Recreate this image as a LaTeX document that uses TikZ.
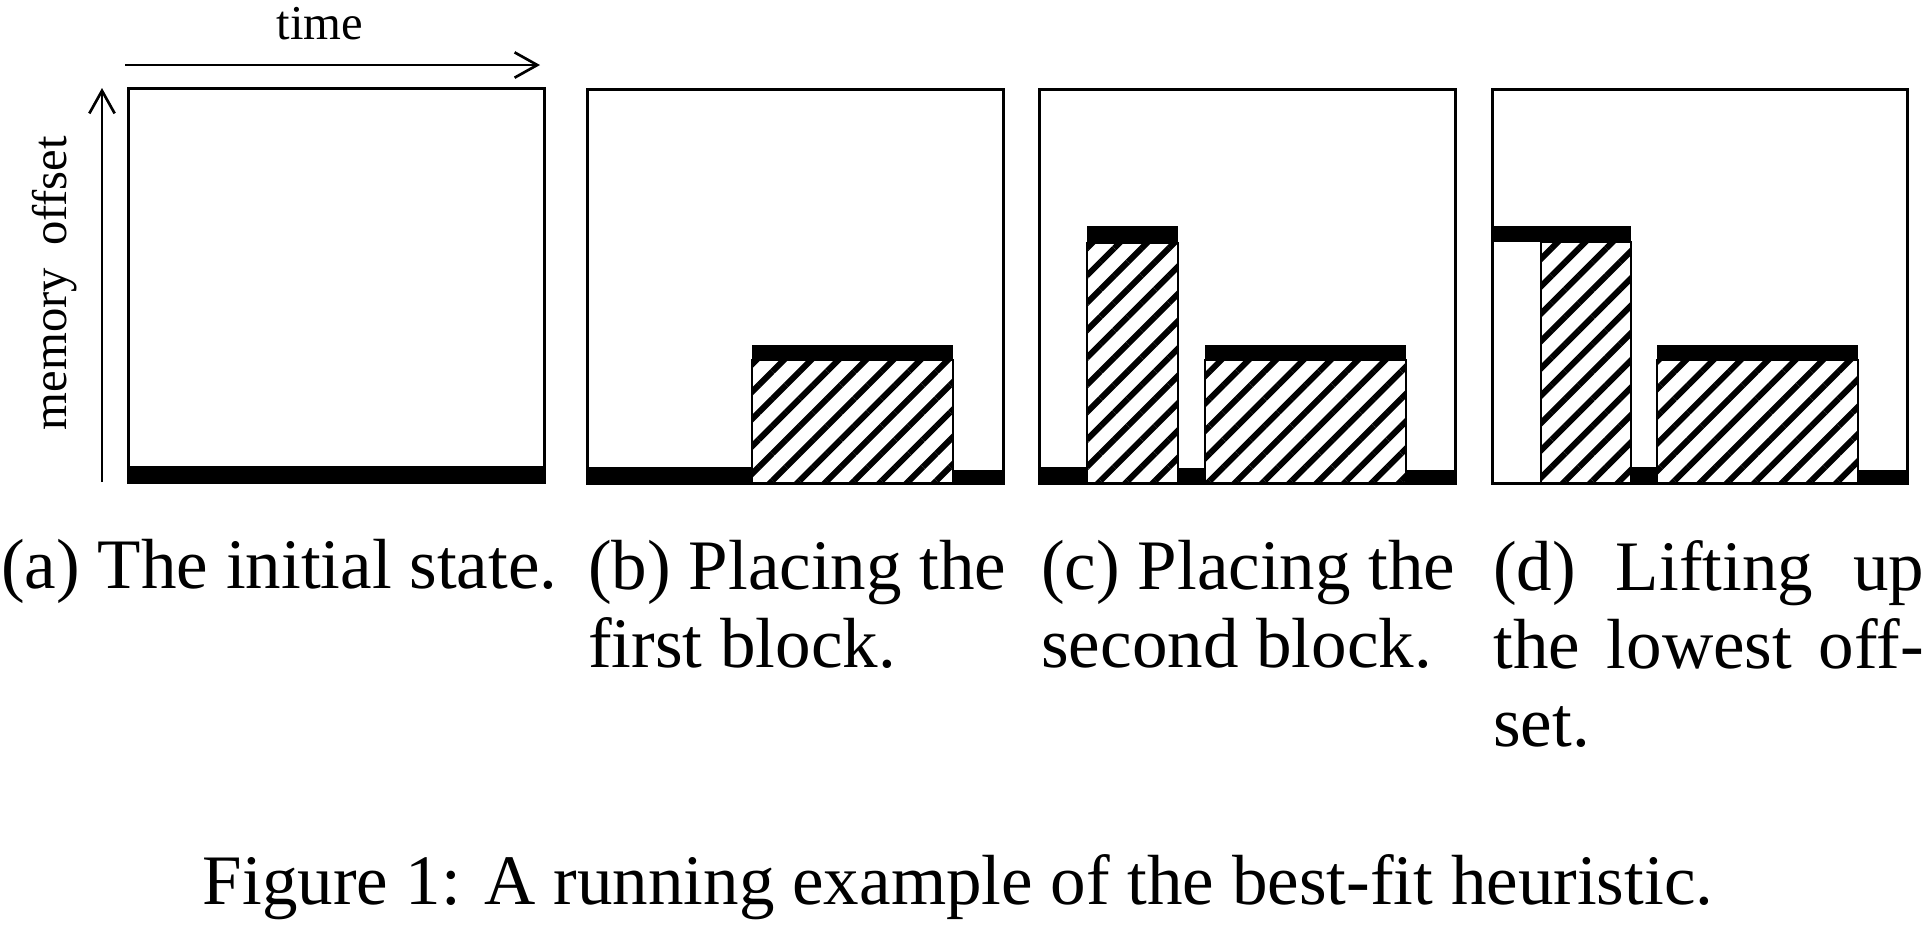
\documentclass[tikz,border=0pt]{standalone}
\usepackage{fontspec}
\setmainfont{Liberation Serif}
\usetikzlibrary{arrows.meta,patterns.meta,positioning}

\begin{document}
\begin{tikzpicture}[x=0.15pt, y=-0.15pt,
  panelbox/.style={draw, line width=0.45pt},
  membar/.style={fill=black},
  memblock/.style={draw, line width=0.4pt, pattern={Lines[angle=45,distance=2.9pt,line width=0.9pt]}},
  axisarrow/.style={-{Straight Barb[length=3.4pt,width=3.8pt]}, line width=0.4pt},
  axislabel/.style={font=\fontsize{7.3}{8.8}\selectfont, inner sep=0pt, anchor=base},
  subcap/.style={font=\fontsize{10.65}{11.7}\selectfont, inner sep=0pt, anchor=base west},
  subcapbox/.style={subcap, text width=64.6pt, align=justify}]
\useasboundingbox (0,0) rectangle (1925,925);
% axes
\coordinate (t0) at (125,65);
\coordinate (t1) at (540,65);
\coordinate (m0) at (102,482);
\coordinate (m1) at (102,88);
\draw[axisarrow] (t0) -- (t1);
\draw[axisarrow] (m0) -- (m1);
\node[axislabel] (timelbl) at (320,39) {time};
\node[axislabel, rotate=90] (memlbl) at (67,283) {memory\hspace{0.45em}offset};
% (a) the initial state
\begin{scope}[shift={(128,88)}]
\draw[panelbox] (0,0) rectangle (416,394);
\fill[membar] (0,378) rectangle (416,394);
\end{scope}
% (b) first block
\begin{scope}[shift={(587,89)}]
\draw[panelbox] (0,0) rectangle (416,394);
\fill[membar] (0,378) rectangle (165,394);
\draw[memblock] (165,271) rectangle (366,394);
\fill[membar] (165,256) rectangle (366,271);
\fill[membar] (366,381) rectangle (416,396);
\end{scope}
% (c) second block
\begin{scope}[shift={(1039,89)}]
\draw[panelbox] (0,0) rectangle (416,394);
\fill[membar] (0,378) rectangle (48,394);
\draw[memblock] (48,154) rectangle (139,394);
\fill[membar] (48,137) rectangle (139,154);
\fill[membar] (139,379) rectangle (166,395);
\draw[memblock] (166,271) rectangle (367,394);
\fill[membar] (166,256) rectangle (367,271);
\fill[membar] (367,381) rectangle (416,396);
\end{scope}
% (d) lifting up
\begin{scope}[shift={(1492,89)}]
\draw[panelbox] (0,0) rectangle (415,394);
\fill[membar] (0,137) rectangle (139,153);
\draw[memblock] (49,153) rectangle (139,394);
\fill[membar] (139,378) rectangle (165,394);
\draw[memblock] (165,271) rectangle (366,394);
\fill[membar] (165,256) rectangle (366,271);
\fill[membar] (366,381) rectangle (415,396);
\end{scope}
% captions
\node[subcap] (capa) at (0,588) {(a) The initial state.};
\node[subcapbox] (capb) at (587,589) {(b) Placing the\newline first block.};
\node[subcapbox] (capc) at (1040,589) {(c) Placing the\newline second block.};
\node[subcapbox] (capd) at (1492,590) {(d) Lifting up\linebreak the lowest off-\linebreak set.};
\node[font=\fontsize{10.65}{11.7}\selectfont, inner sep=0pt, anchor=base] (figcap) at (958,904) {Figure 1: A running example of the best-fit heuristic.};
\end{tikzpicture}
\end{document}
